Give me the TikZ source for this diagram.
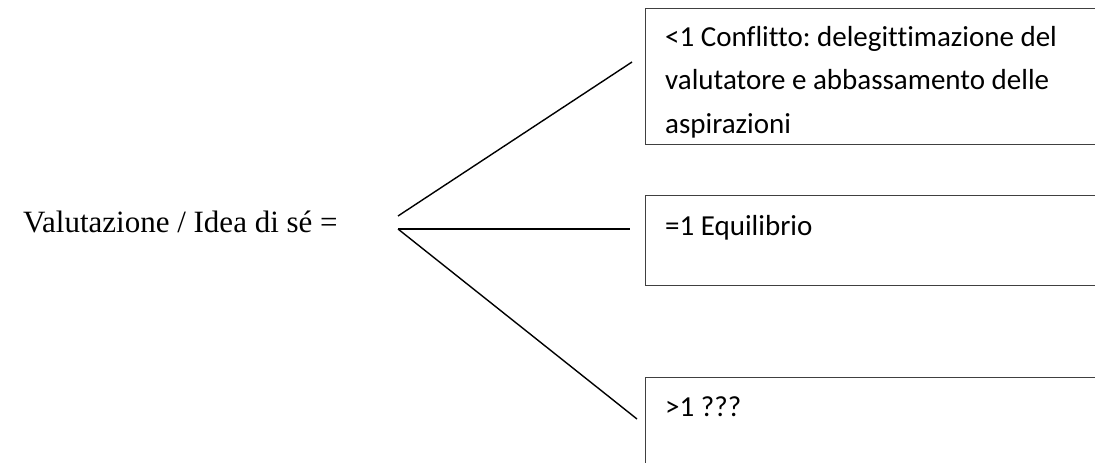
\documentclass[tikz,border=0pt]{standalone}
\usepackage{fontspec}
\setmainfont{Liberation Serif}
\newfontfamily\boxfont[Ligatures=NoCommon]{Carlito}
\frenchspacing
\begin{document}
\begin{tikzpicture}[x=1pt,y=-1pt,
  boxframe/.style={draw=black!75, line width=1.3pt, anchor=north west, inner sep=0pt, minimum width=470pt},
  boxtext/.style={anchor=base west, inner sep=0pt, align=flush left, text width=420pt,
    font=\boxfont\fontsize{29}{43.5}\selectfont},
  branch/.style={line width=1.4pt, black}]
  \useasboundingbox (0,0) rectangle (1095,463);
  \clip (0,0) rectangle (1095,463);

  % left-hand term
  \node[anchor=base west, inner sep=0pt, font=\fontsize{31}{36}\selectfont]
    (lhs) at (23,232) {Valutazione / Idea di sé =};

  % the three outcome boxes (open to the right)
  \node[boxframe, minimum height=136pt] (low) at (645,8) {};
  \node[boxframe, minimum height=90pt]  (mid) at (645,195) {};
  \node[boxframe, minimum height=110pt] (high) at (645,377) {};

  \node[boxtext] (lowtext) at (665,46)
    {<1 Conflitto: delegittimazione del\\valutatore e abbassamento delle\\aspirazioni};
  \node[boxtext] (midtext) at (665,235) {=1 Equilibrio};
  \node[boxtext] (hightext) at (665,416) {>1 ???};

  % branching lines
  \coordinate (fork) at (398,229);
  \coordinate (forkup) at (398,216);
  \coordinate (endlow) at (632,62);
  \coordinate (endmid) at (630,229);
  \coordinate (endhigh) at (637,419);
  \draw[branch] (forkup) -- (endlow);
  \draw[branch] (fork) -- (endmid);
  \draw[branch] (fork) -- (endhigh);
\end{tikzpicture}
\end{document}
